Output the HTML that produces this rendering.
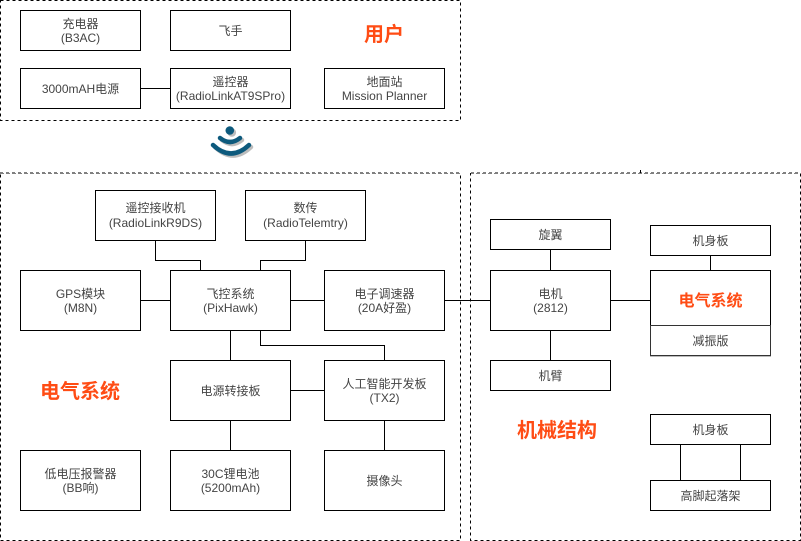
<!DOCTYPE html>
<html>
<head>
<meta charset="utf-8">
<style>
html,body{margin:0;padding:0;background:#fff;width:801px;height:541px;overflow:hidden}
svg{display:block}
text{font-family:"Liberation Sans","WenQuanYi Zen Hei","Noto Sans CJK SC",sans-serif;font-size:12px;fill:#444;text-anchor:middle}
.t{font-family:"Liberation Sans","Noto Sans CJK SC",sans-serif;font-size:20px;font-weight:bold;fill:#ff4c14}
.b{fill:#fff;stroke:#000;stroke-width:1}
.l{fill:none;stroke:#000;stroke-width:1}
.d{fill:none;stroke:#000;stroke-width:1;stroke-dasharray:3 3}
.g{fill:none;stroke:#808080;stroke-width:2;stroke-dasharray:3 3}
</style>
</head>
<body>
<svg width="801" height="541" viewBox="0 0 801 541" xmlns="http://www.w3.org/2000/svg">
<rect class="d" x="0.5" y="0.5" width="460" height="120"/>
<rect class="d" x="0.5" y="173.5" width="460" height="367"/>
<rect class="d" x="470.5" y="173.5" width="330" height="367"/>
<path class="g" d="M0 173H461M471 173H801"/>
<path class="l" d="M640.5 170V173"/>

<!-- connectors -->
<path class="l" d="M140.5 88.5H170.5M155.5 240.5V260.5H200.5V270.5M305.5 240.5V260.5H260.5V270.5M140.5 300.5H170.5M290.5 300.5H324.5M444.5 300.5H490.5M230.5 330.5V360.5M260.5 330.5V345.5H384.5V360.5M290.5 390.5H324.5M230.5 420.5V450.5M384.5 420.5V450.5M550.5 249.5V270.5M550.5 330.5V360.5M610.5 300.5H650.5M710.5 255.5V270.5M680.5 444.5V480.5M740.5 444.5V480.5"/>

<!-- user -->
<rect class="b" x="20.5" y="10.5" width="120" height="40"/>
<text x="80.5" y="28">充电器</text><text x="80.5" y="42">(B3AC)</text>
<rect class="b" x="170.5" y="10.5" width="120" height="40"/>
<text x="230.5" y="35">飞手</text>
<rect class="b" x="20.5" y="68.5" width="120" height="40"/>
<text x="80.5" y="93">3000mAH电源</text>
<rect class="b" x="170.5" y="68.5" width="120" height="40"/>
<text x="230.5" y="86">遥控器</text><text x="230.5" y="100">(RadioLinkAT9SPro)</text>
<rect class="b" x="324.5" y="68.5" width="120" height="40"/>
<text x="384.5" y="86">地面站</text><text x="384.5" y="100">Mission Planner</text>
<text class="t" x="384" y="41">用户</text>

<!-- wifi icon -->
<g fill="none" stroke-linecap="round" stroke-width="4.5">
<g stroke="#bdbdbd" transform="translate(2 2)">
<circle cx="229.8" cy="130.5" r="4.3" fill="#bdbdbd" stroke="none"/>
<path d="M220 138Q230 146 240 138"/>
<path d="M213 145Q231 162 249 145"/>
</g>
<g stroke="#0d5a7d">
<circle cx="229.8" cy="130.5" r="4.3" fill="#0d5a7d" stroke="none"/>
<path d="M220 138Q230 146 240 138"/>
<path d="M213 145Q231 162 249 145"/>
</g>
</g>

<!-- electrical -->
<rect class="b" x="95.5" y="190.5" width="120" height="50"/>
<text x="155.5" y="212">遥控接收机</text><text x="155.5" y="227">(RadioLinkR9DS)</text>
<rect class="b" x="245.5" y="190.5" width="120" height="50"/>
<text x="305.5" y="212">数传</text><text x="305.5" y="227">(RadioTelemtry)</text>
<rect class="b" x="20.5" y="270.5" width="120" height="60"/>
<text x="80.5" y="298">GPS模块</text><text x="80.5" y="312">(M8N)</text>
<rect class="b" x="170.5" y="270.5" width="120" height="60"/>
<text x="230.5" y="298">飞控系统</text><text x="230.5" y="312">(PixHawk)</text>
<rect class="b" x="324.5" y="270.5" width="120" height="60"/>
<text x="384.5" y="298">电子调速器</text><text x="384.5" y="312">(20A好盈)</text>
<rect class="b" x="170.5" y="360.5" width="120" height="60"/>
<text x="230.5" y="395">电源转接板</text>
<rect class="b" x="324.5" y="360.5" width="120" height="60"/>
<text x="384.5" y="388">人工智能开发板</text><text x="384.5" y="402">(TX2)</text>
<rect class="b" x="20.5" y="450.5" width="120" height="60"/>
<text x="80.5" y="478">低电压报警器</text><text x="80.5" y="492">(BB响)</text>
<rect class="b" x="170.5" y="450.5" width="120" height="60"/>
<text x="230.5" y="478">30C锂电池</text><text x="230.5" y="492">(5200mAh)</text>
<rect class="b" x="324.5" y="450.5" width="120" height="60"/>
<text x="384.5" y="485">摄像头</text>
<text class="t" x="80" y="398">电气系统</text>

<!-- mechanical -->
<rect class="b" x="490.5" y="219.5" width="120" height="30"/>
<text x="550.5" y="239">旋翼</text>
<rect class="b" x="490.5" y="270.5" width="120" height="60"/>
<text x="550.5" y="298">电机</text><text x="550.5" y="312">(2812)</text>
<rect class="b" x="490.5" y="360.5" width="120" height="30"/>
<text x="550.5" y="380">机臂</text>
<rect class="b" x="650.5" y="225.5" width="120" height="30"/>
<text x="710.5" y="245">机身板</text>
<rect x="650" y="326" width="121" height="31" fill="#bbb"/>
<rect class="b" x="650.5" y="270.5" width="120" height="55"/>
<rect class="b" x="650.5" y="325.5" width="120" height="30" style="stroke:#333"/>
<text class="t" x="710.5" y="306" style="font-size:16px">电气系统</text>
<text x="710.5" y="345">减振版</text>
<rect class="b" x="650.5" y="414.5" width="120" height="30"/>
<text x="710.5" y="434">机身板</text>
<rect class="b" x="650.5" y="480.5" width="120" height="30"/>
<text x="710.5" y="500">高脚起落架</text>
<text class="t" x="557" y="437">机械结构</text>
</svg>
</body>
</html>
